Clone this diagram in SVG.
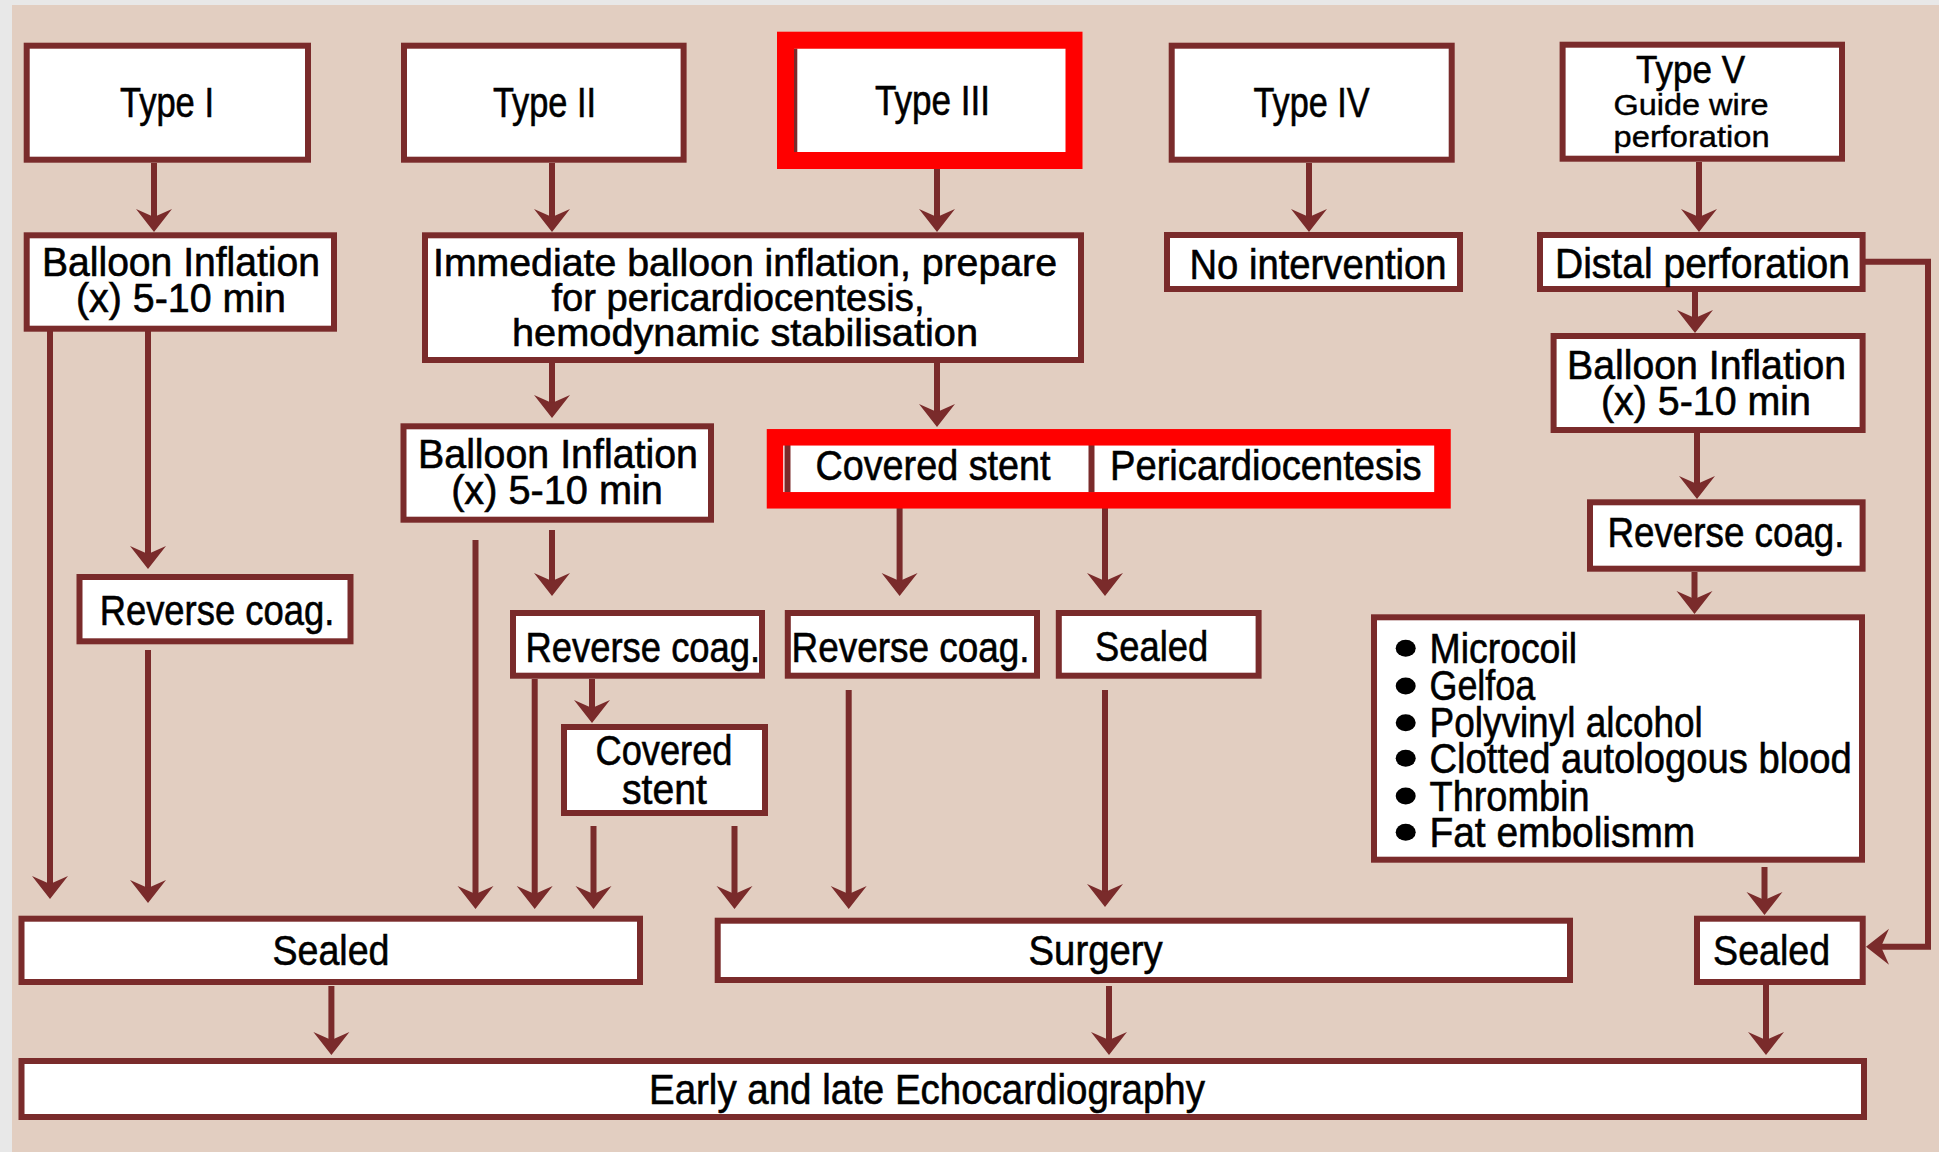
<svg xmlns="http://www.w3.org/2000/svg" width="1939" height="1152" viewBox="0 0 1939 1152">
<defs>
<style>
.box{fill:#ffffff;stroke:#7a2b2b;stroke-width:6}
.red{fill:none;stroke:#ff0000}
.conn{fill:none;stroke:#7a2b2b;stroke-width:6;marker-end:url(#ah)}
.dk{stroke:#7a2b2b;fill:none}
text{font-family:"Liberation Sans",Arial,sans-serif;font-size:42px;fill:#000000;stroke:#000000;stroke-width:0.6px}
.c{text-anchor:middle}
.s40{font-size:39px}
.s41{font-size:40px}
.s39{font-size:39px}
.s29{font-size:29px;stroke-width:0.4px}
</style>
<marker id="ah" markerUnits="userSpaceOnUse" viewBox="-10 -20 30 40" markerWidth="30" markerHeight="40" refX="0" refY="0" orient="auto">
<path d="M15,0 L-8,-18 L0,0 L-8,18 Z" fill="#7a2b2b"/>
</marker>
</defs>
<rect x="0" y="0" width="1939" height="1152" fill="#e8e8e8"/>
<rect x="12" y="5" width="1927" height="1147" fill="#e2cec1"/>

<g id="connectors">
<path class="conn" d="M154,163 V217"/>
<path class="conn" d="M552,163 V217"/>
<path class="conn" d="M937,169 V217"/>
<path class="conn" d="M1309,163 V217"/>
<path class="conn" d="M1699,162 V217"/>
<path class="conn" d="M1695,292 V318"/>
<path class="conn" d="M1697,433 V484"/>
<path class="conn" d="M1694.5,572 V599"/>
<path class="conn" d="M1764.5,867 V900"/>
<path class="conn" d="M1766,985 V1040"/>
<path class="conn" d="M1865,261.7 H1928 V946.7 H1881"/>
<path class="conn" d="M50,331 V884"/>
<path class="conn" d="M148,331 V554"/>
<path class="conn" d="M148,650 V888"/>
<path class="conn" d="M552,363 V403"/>
<path class="conn" d="M937,363 V412"/>
<path class="conn" d="M475.5,540 V894"/>
<path class="conn" d="M552,530 V581"/>
<path class="conn" d="M534.7,679 V894"/>
<path class="conn" d="M592,679 V708"/>
<path class="conn" d="M593.5,826 V894"/>
<path class="conn" d="M734.5,826 V894"/>
<path class="conn" d="M899.6,508 V581"/>
<path class="conn" d="M1105,508 V581"/>
<path class="conn" d="M848.7,690 V894"/>
<path class="conn" d="M1105,690 V892"/>
<path class="conn" d="M331.4,986 V1040"/>
<path class="conn" d="M1109,986 V1040"/>
</g>

<g id="type1">
<rect class="box" x="26.7" y="45.7" width="281.3" height="114"/>
<text class="c" x="167" y="116.7" textLength="94" lengthAdjust="spacingAndGlyphs">Type I</text>
</g>
<g id="type2">
<rect class="box" x="404" y="45.7" width="279.6" height="114"/>
<text class="c" x="544.5" y="116.7" textLength="103" lengthAdjust="spacingAndGlyphs">Type II</text>
</g>
<g id="type3">
<rect x="794" y="48.5" width="272" height="104.5" fill="#ffffff"/>
<line class="dk" x1="795.3" y1="48.5" x2="795.3" y2="153" stroke-width="4"/>
<rect class="red" x="785.5" y="40.2" width="288.5" height="120.3" stroke-width="17"/>
<text class="c" x="932.5" y="115" textLength="115" lengthAdjust="spacingAndGlyphs">Type III</text>
</g>
<g id="type4">
<rect class="box" x="1171.7" y="45.7" width="280" height="114"/>
<text class="c" x="1311.6" y="116.7" textLength="116" lengthAdjust="spacingAndGlyphs">Type IV</text>
</g>
<g id="type5">
<rect class="box" x="1562.6" y="44.7" width="279.4" height="114"/>
<text class="c s39" x="1690.6" y="83.3" textLength="109" lengthAdjust="spacingAndGlyphs">Type V</text>
<text class="c s29" x="1691" y="115" textLength="155" lengthAdjust="spacingAndGlyphs">Guide wire</text>
<text class="c s29" x="1691.6" y="146.7" textLength="156" lengthAdjust="spacingAndGlyphs">perforation</text>
</g>

<g id="balloon1">
<rect class="box" x="26.7" y="235.3" width="307.3" height="93.4"/>
<text class="c s41" x="181" y="276" textLength="278" lengthAdjust="spacingAndGlyphs">Balloon Inflation</text>
<text class="c s41" x="181" y="312" textLength="210" lengthAdjust="spacingAndGlyphs">(x) 5-10 min</text>
</g>
<g id="immediate">
<rect class="box" x="425" y="235.3" width="656" height="124.7"/>
<text class="c s40" x="745" y="276" textLength="624" lengthAdjust="spacingAndGlyphs">Immediate balloon inflation, prepare</text>
<text class="c s40" x="738" y="311" textLength="373" lengthAdjust="spacingAndGlyphs">for pericardiocentesis,</text>
<text class="c s40" x="745" y="346" textLength="466" lengthAdjust="spacingAndGlyphs">hemodynamic stabilisation</text>
</g>
<g id="nointervention">
<rect class="box" x="1167" y="235" width="293" height="54"/>
<text class="c" x="1318" y="279" textLength="257" lengthAdjust="spacingAndGlyphs">No intervention</text>
</g>
<g id="distal">
<rect class="box" x="1540" y="235" width="322.6" height="54"/>
<text class="c" x="1702.5" y="278" textLength="295" lengthAdjust="spacingAndGlyphs">Distal perforation</text>
</g>
<g id="balloon5">
<rect class="box" x="1553.6" y="336" width="309" height="94"/>
<text class="c s41" x="1706.6" y="379.3" textLength="279" lengthAdjust="spacingAndGlyphs">Balloon Inflation</text>
<text class="c s41" x="1706" y="415" textLength="210" lengthAdjust="spacingAndGlyphs">(x) 5-10 min</text>
</g>
<g id="reverse5">
<rect class="box" x="1590" y="502.3" width="272.6" height="66.4"/>
<text class="c" x="1726" y="546.7" textLength="237" lengthAdjust="spacingAndGlyphs">Reverse coag.</text>
</g>
<g id="embolization">
<rect class="box" x="1374" y="617.3" width="488" height="242.4"/>
<ellipse cx="1405.7" cy="648.3" rx="10" ry="8.5"/>
<ellipse cx="1405.7" cy="686" rx="10" ry="8.5"/>
<ellipse cx="1405.7" cy="722.7" rx="10" ry="8.5"/>
<ellipse cx="1405.7" cy="758.3" rx="10" ry="8.5"/>
<ellipse cx="1405.7" cy="796" rx="10" ry="8.5"/>
<ellipse cx="1405.7" cy="832.3" rx="10" ry="8.5"/>
<text x="1429.5" y="663.3" textLength="147.5" lengthAdjust="spacingAndGlyphs">Microcoil</text>
<text x="1429.5" y="700" textLength="105.7" lengthAdjust="spacingAndGlyphs">Gelfoa</text>
<text x="1429.5" y="736.7" textLength="273.3" lengthAdjust="spacingAndGlyphs">Polyvinyl alcohol</text>
<text x="1429.5" y="772.7" textLength="422.3" lengthAdjust="spacingAndGlyphs">Clotted autologous blood</text>
<text x="1429.5" y="810.5" textLength="160" lengthAdjust="spacingAndGlyphs">Thrombin</text>
<text x="1429.5" y="847.3" textLength="265.7" lengthAdjust="spacingAndGlyphs">Fat embolismm</text>
</g>

<g id="reverse1">
<rect class="box" x="79.5" y="577" width="271" height="64.3"/>
<text class="c" x="217" y="625" textLength="234.7" lengthAdjust="spacingAndGlyphs">Reverse coag.</text>
</g>
<g id="balloon2">
<rect class="box" x="403.5" y="426.3" width="307.5" height="93.4"/>
<text class="c s41" x="558" y="468.3" textLength="280" lengthAdjust="spacingAndGlyphs">Balloon Inflation</text>
<text class="c s41" x="557" y="504" textLength="211.7" lengthAdjust="spacingAndGlyphs">(x) 5-10 min</text>
</g>
<g id="reverse2">
<rect class="box" x="513" y="613" width="249" height="62.7"/>
<text x="525.5" y="661.7" textLength="234.7" lengthAdjust="spacingAndGlyphs">Reverse coag.</text>
</g>
<g id="covered2">
<rect class="box" x="564" y="727" width="201" height="86"/>
<text class="c" x="664" y="765" textLength="137" lengthAdjust="spacingAndGlyphs">Covered</text>
<text class="c" x="664.5" y="804" textLength="85" lengthAdjust="spacingAndGlyphs">stent</text>
</g>

<g id="covered3">
<rect x="783" y="445" width="308.5" height="47.5" fill="#ffffff"/>
<line class="dk" x1="787.5" y1="445" x2="787.5" y2="492.5" stroke-width="6"/>
<text class="c" x="933" y="480" textLength="235" lengthAdjust="spacingAndGlyphs">Covered stent</text>
</g>
<g id="pericardiocentesis">
<rect x="1091.5" y="445" width="342.5" height="47.5" fill="#ffffff"/>
<line class="dk" x1="1091.5" y1="445" x2="1091.5" y2="492.5" stroke-width="6"/>
<text x="1110" y="480" textLength="311.7" lengthAdjust="spacingAndGlyphs">Pericardiocentesis</text>
</g>
<rect class="red" x="775" y="437.3" width="667.5" height="63" stroke-width="16.5"/>

<g id="reverse3">
<rect class="box" x="787.8" y="613" width="249.2" height="62.7"/>
<text x="791.5" y="661.7" textLength="238" lengthAdjust="spacingAndGlyphs">Reverse coag.</text>
</g>
<g id="sealed3">
<rect class="box" x="1058.8" y="613" width="199.8" height="62.7"/>
<text class="c" x="1151.6" y="661" textLength="113" lengthAdjust="spacingAndGlyphs">Sealed</text>
</g>

<g id="sealedL">
<rect class="box" x="21.5" y="918.7" width="618.5" height="63.3"/>
<text class="c" x="331" y="965" textLength="117" lengthAdjust="spacingAndGlyphs">Sealed</text>
</g>
<g id="surgery">
<rect class="box" x="717.7" y="920.7" width="852.3" height="59.3"/>
<text class="c" x="1095.6" y="965" textLength="134" lengthAdjust="spacingAndGlyphs">Surgery</text>
</g>
<g id="sealedR">
<rect class="box" x="1697" y="918.7" width="165.7" height="63.3"/>
<text class="c" x="1771.6" y="965" textLength="117" lengthAdjust="spacingAndGlyphs">Sealed</text>
</g>
<g id="echo">
<rect class="box" x="21.5" y="1061" width="1842.5" height="56"/>
<text class="c" x="927" y="1104" textLength="556" lengthAdjust="spacingAndGlyphs">Early and late Echocardiography</text>
</g>
</svg>
